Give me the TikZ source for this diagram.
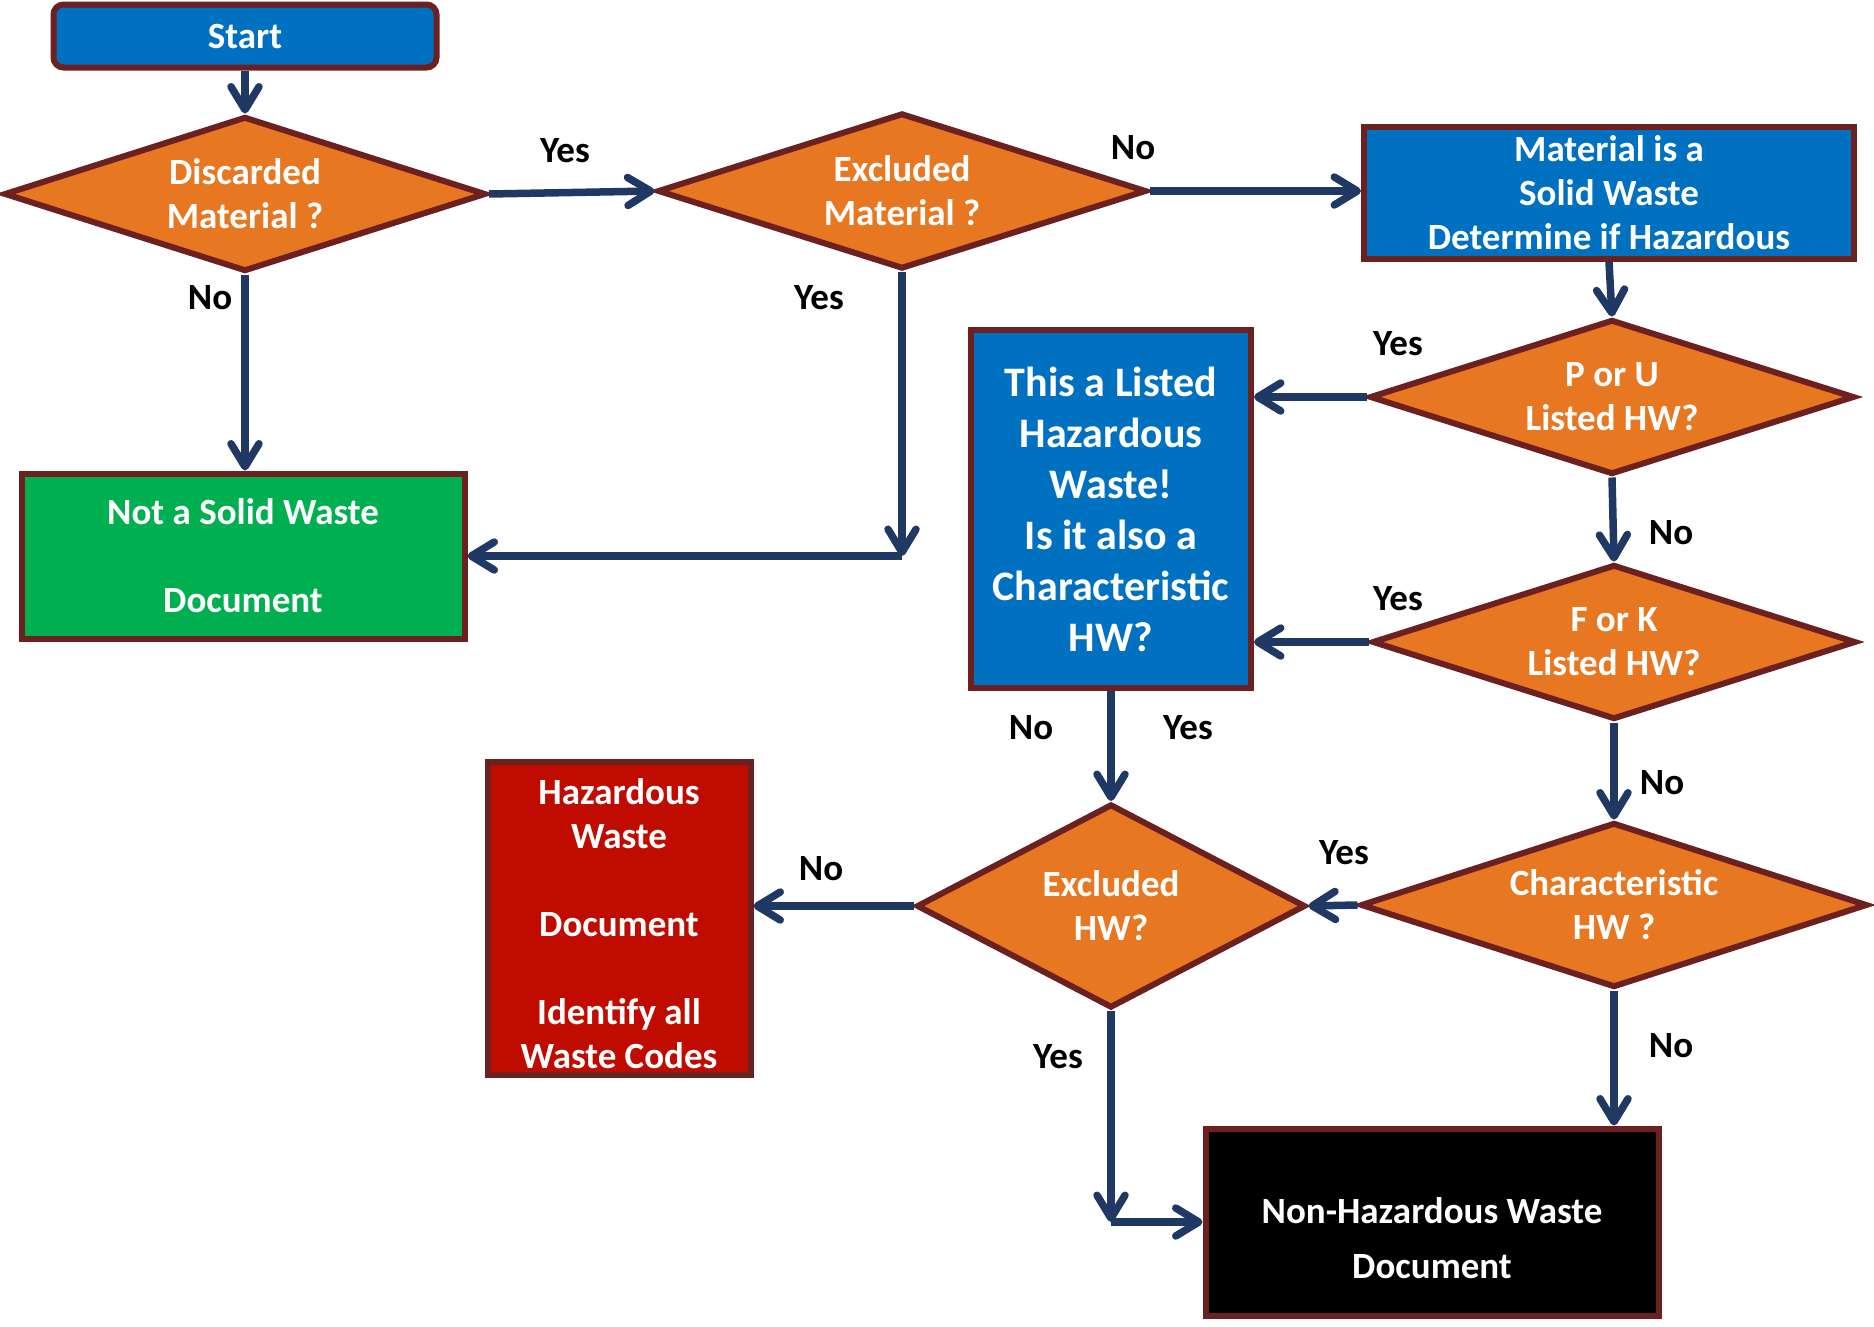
\documentclass[tikz,border=0pt]{standalone}
\usepackage{fontspec}
\setmainfont{Carlito}
\usepackage{tikz}
\usetikzlibrary{arrows.meta,shapes.geometric,positioning}
\definecolor{wblue}{RGB}{0,112,192}
\definecolor{worange}{RGB}{232,119,34}
\definecolor{wrim}{RGB}{108,32,32}
\definecolor{wnavy}{RGB}{31,56,100}
\definecolor{wgreen}{RGB}{0,176,80}
\definecolor{wred}{RGB}{192,12,0}
\newcommand{\boxfont}{\fontsize{37}{44}\selectfont\bfseries}
\newcommand{\bigboxfont}{\fontsize{42}{51}\selectfont\bfseries}
\tikzset{>={Straight Barb[length=23pt,width=28pt,round]},
         dec/.style={diamond,draw=wrim,fill=worange,line width=6pt,inner sep=0pt,
                     shape aspect=3,text=white,align=center,font=\boxfont},
         blk/.style={rectangle,draw=wrim,line width=6pt,inner sep=0pt,
                     text=white,align=center,font=\boxfont},
         lbl/.style={font=\boxfont,text=black},
         flow/.style={draw=wnavy,line width=7.5pt,->}}

\begin{document}
\begin{tikzpicture}[x=1pt,y=-1pt]
	  \useasboundingbox (0,0) rectangle (1874,1326);
	  % boxes and decisions
	  \node[blk,fill=wblue,rounded corners=10pt,minimum width=383,minimum height=63] (st) at (245,36) {Start};
	  \node[dec,minimum width=482,minimum height=155] (disc) at (245,194) {Discarded\\Material ?};
	  \node[dec,minimum width=489,minimum height=156] (exm) at (902,191) {Excluded\\Material ?};
	  \node[blk,fill=wblue,minimum width=490,minimum height=132] (sw) at (1609,193)
	    {Material is a\\Solid Waste\\Determine if Hazardous};
	  \node[dec,minimum width=485,minimum height=155] (pu) at (1612,397) {P or U\\Listed HW?};
	  \node[dec,minimum width=484,minimum height=155] (fk) at (1614,642) {F or K\\Listed HW?};
	  \node[dec,minimum width=507,minimum height=165] (chr) at (1614,905) {Characteristic\\HW ?};
	  \node[dec,shape aspect=1.9,minimum width=389,minimum height=204] (exh) at (1111,906) {Excluded\\HW?};
	  \node[blk,fill=wblue,font=\bigboxfont,minimum width=280,minimum height=358] (lst) at (1111,509)
	    {This a Listed\\Hazardous\\Waste!\\Is it also a\\Characteristic\\HW?};
	  \node[blk,fill=wgreen,minimum width=443,minimum height=165] (nsw) at (243,556)
	    {Not a Solid Waste\\[44pt]Document};
	  \node[blk,fill=wred,minimum width=263,minimum height=313] (hz) at (619,918)
	    {\rule{0pt}{38pt}Hazardous\\Waste\\[44pt]Document\\[44pt]Identify all\\Waste Codes};
	  \node[blk,fill=black,minimum width=453,minimum height=187] (nh) at (1432,1222)
	    {\rule{0pt}{58pt}Non-Hazardous Waste\\[11pt]Document};
	  % answers
	  \node[lbl] (y1) at (565,151) {Yes};
	  \node[lbl] (n1) at (210,298) {No};
	  \node[lbl] (y2) at (819,298) {Yes};
	  \node[lbl] (n2) at (1133,148) {No};
	  \node[lbl] (y3) at (1398,344) {Yes};
	  \node[lbl] (n3) at (1671,533) {No};
	  \node[lbl] (y4) at (1398,599) {Yes};
	  \node[lbl] (n4) at (1662,783) {No};
	  \node[lbl] (y5) at (1344,853) {Yes};
	  \node[lbl] (n5) at (1031,728) {No};
	  \node[lbl] (y6) at (1188,728) {Yes};
	  \node[lbl] (n6) at (821,869) {No};
	  \node[lbl] (y7) at (1058,1057) {Yes};
	  \node[lbl] (n7) at (1671,1046) {No};
	  % connectors
	  \coordinate (exmturn) at (exm.south |- nsw.east);
	  \coordinate (exhturn) at (exh.south |- nh.west);
	  \draw[flow] (st) -- (disc);
	  \draw[flow] (disc.east) -- (exm.west);
	  \draw[flow] (disc.south) -- (disc.south |- nsw.north);
	  \draw[flow] (exm.south) -- (exmturn);
	  \draw[flow] (exmturn) -- (nsw.east);
	  \draw[flow] (exm.east) -- (exm.east -| sw.west);
	  \draw[flow] (sw.south) -- (pu.north);
	  \draw[flow] (pu.west) -- (pu.west -| lst.east);
	  \draw[flow] (pu.south) -- (fk.north);
	  \draw[flow] (fk.west) -- (fk.west -| lst.east);
	  \draw[flow] (fk.south) -- (chr.north);
	  \draw[flow] (chr.west) -- (exh.east);
	  \draw[flow] (lst.south) -- (exh.north);
	  \draw[flow] (exh.west) -- (exh.west -| hz.east);
	  \draw[flow] (exh.south) -- (exhturn);
	  \draw[flow] (exhturn) -- (nh.west);
	  \draw[flow] (chr.south) -- (chr.south |- nh.north);
\end{tikzpicture}
\end{document}
